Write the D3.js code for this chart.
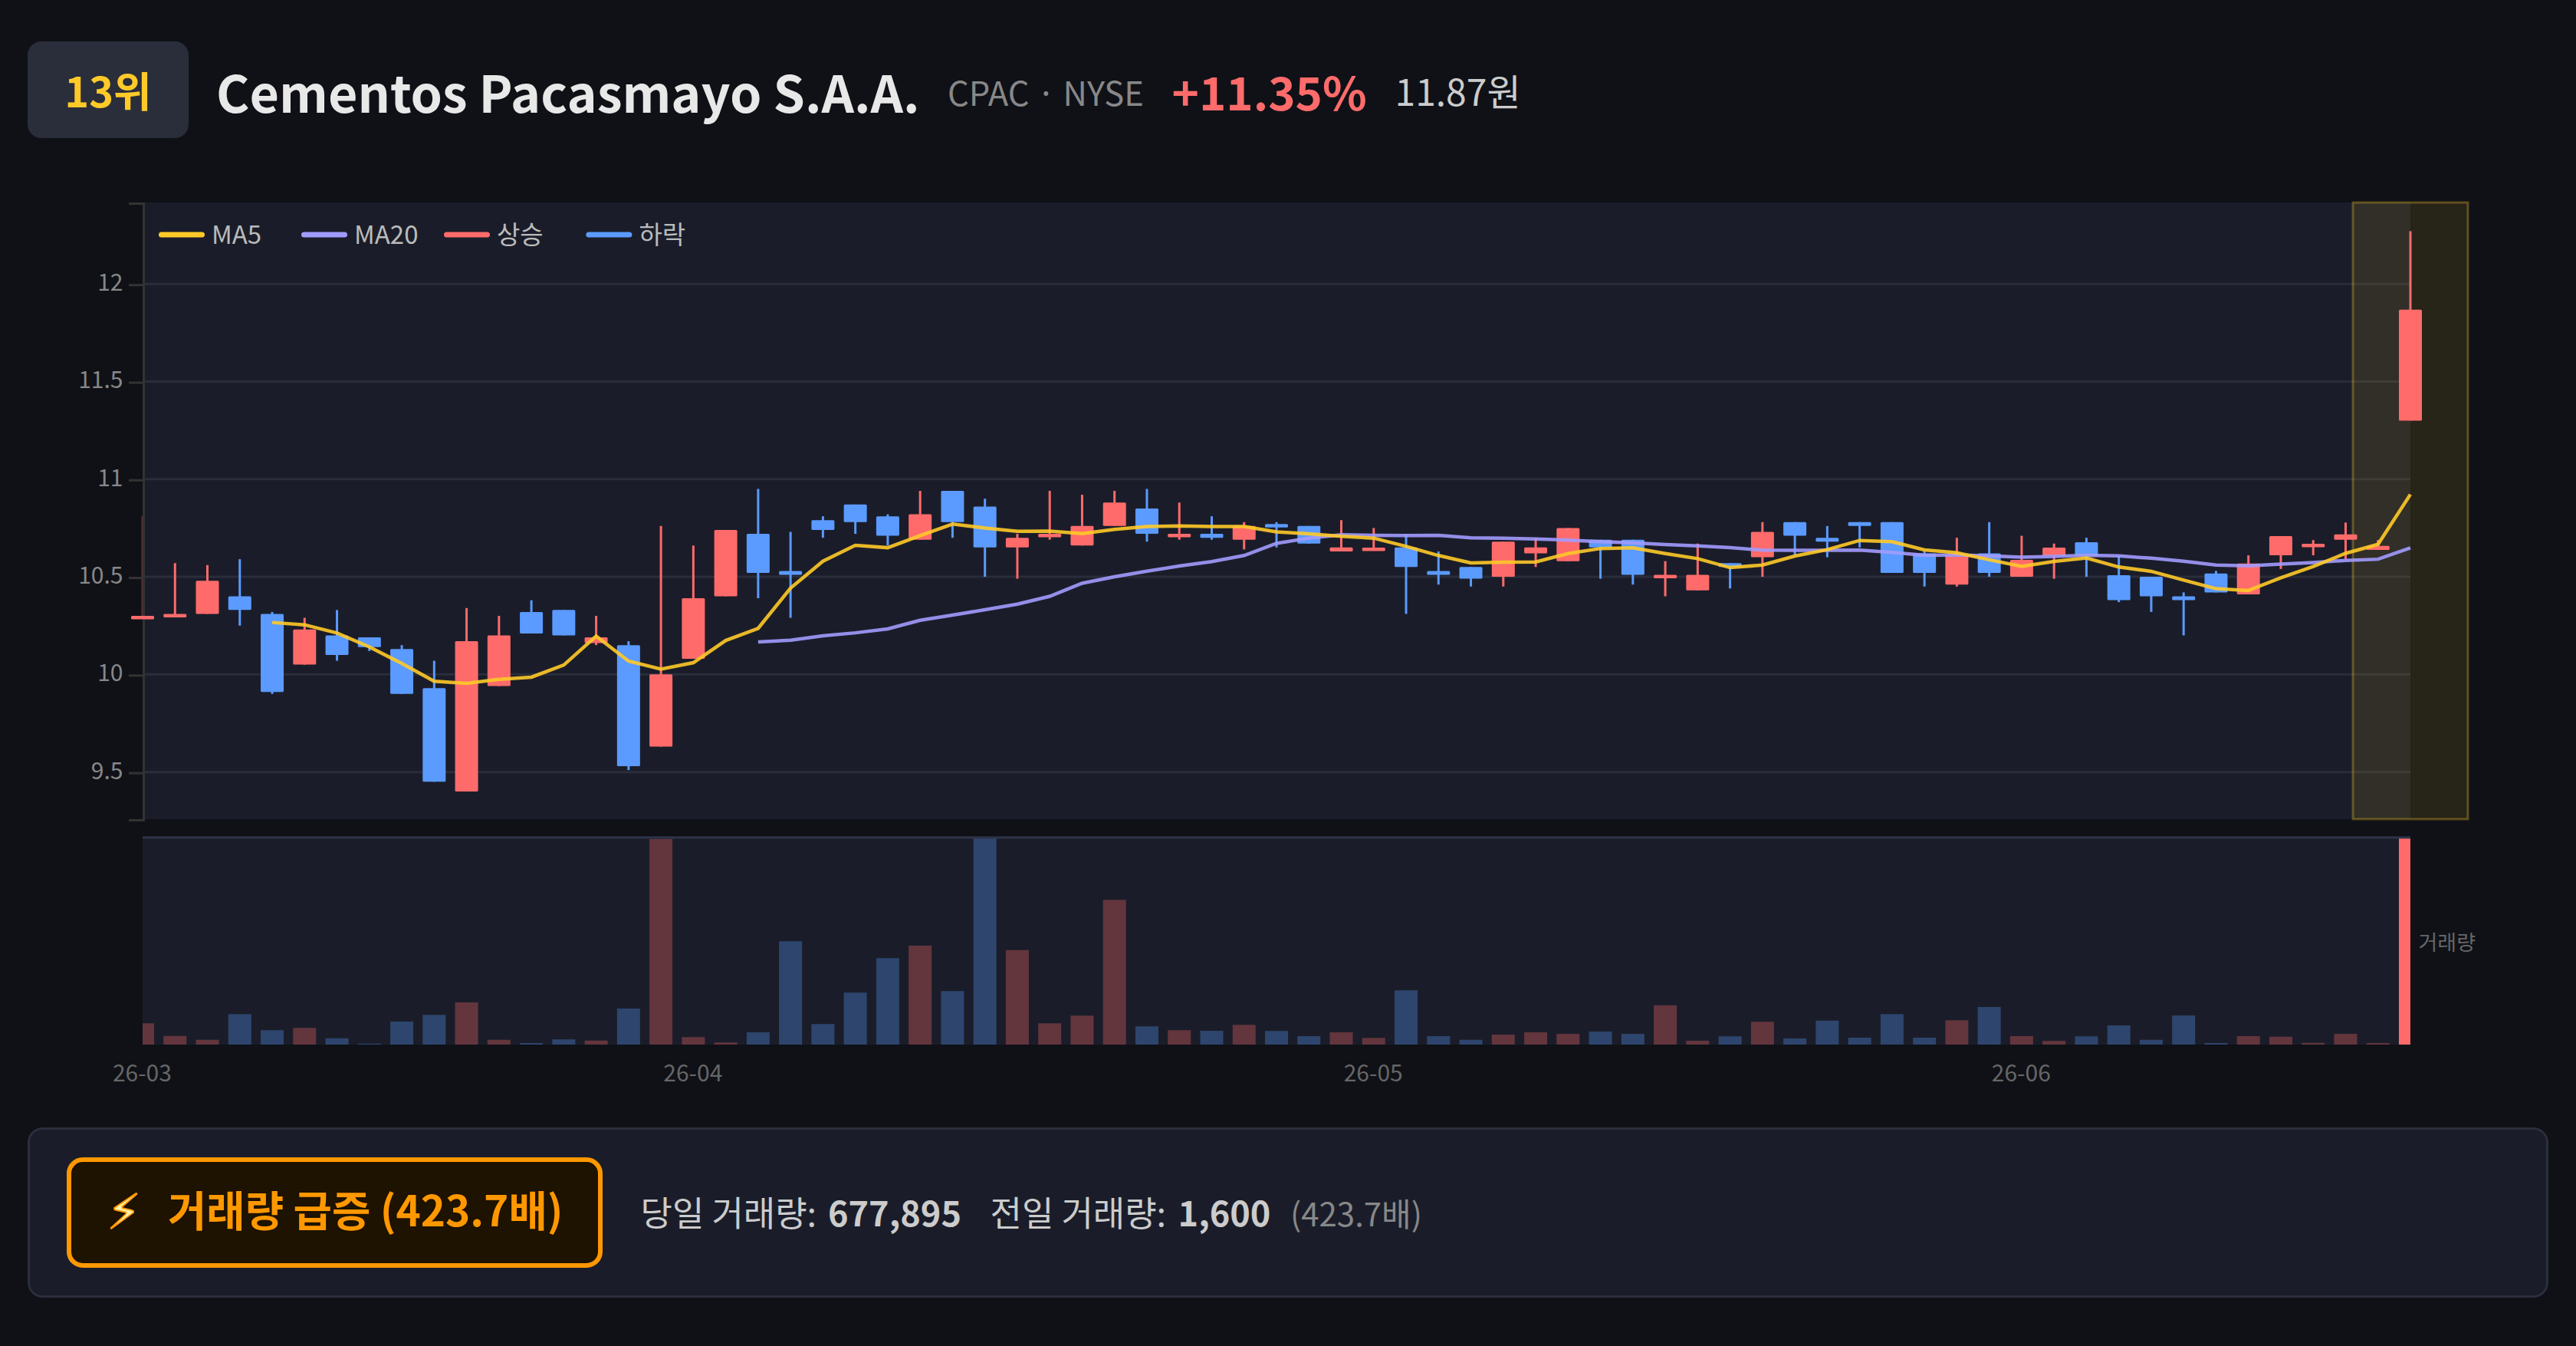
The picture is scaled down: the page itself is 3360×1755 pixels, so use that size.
<!DOCTYPE html>
<html>

<head>
    <meta charset="utf-8">
    <title>Cementos Pacasmayo</title>
    <script src="https://cdn.jsdelivr.net/npm/d3@7"></script>
    <style type="text/css">
        html, body {
            margin: 0;
            padding: 0;
            background-color: #0f1117;
            overflow: hidden;
        }
        svg {
            display: block;
        }
        text {
            font-family: "Noto Sans CJK KR", "Noto Sans", sans-serif;
        }
        .yaxis path, .yaxis line {
            stroke: #333;
        }
        .yaxis text {
            fill: #888;
            font-size: 10px;
        }
        .xaxis text {
            fill: #666;
            font-size: 10px;
        }
    </style>
</head>

<body>
    <script>
        // values, one entry per trading day
        var opens = [10.29,10.30,10.31,10.40,10.31,10.05,10.20,10.19,10.13,9.93,9.40,9.94,10.32,10.33,10.16,10.15,9.63,10.08,10.40,10.72,10.53,10.79,10.87,10.81,10.69,10.94,10.86,10.65,10.71,10.66,10.76,10.85,10.71,10.72,10.69,10.77,10.76,10.63,10.637,10.65,10.53,10.55,10.50,10.62,10.58,10.69,10.69,10.50,10.43,10.57,10.60,10.78,10.70,10.78,10.78,10.62,10.46,10.62,10.50,10.607,10.677,10.508,10.50,10.40,10.517,10.41,10.61,10.66,10.69,10.638,11.30];
        var closes = [10.30,10.31,10.48,10.33,9.91,10.23,10.10,10.14,9.90,9.45,10.17,10.20,10.21,10.20,10.19,9.53,10.00,10.39,10.74,10.52,10.51,10.74,10.78,10.71,10.82,10.78,10.65,10.70,10.72,10.76,10.88,10.72,10.72,10.70,10.76,10.76,10.67,10.65,10.649,10.55,10.51,10.49,10.68,10.65,10.75,10.65,10.51,10.51,10.51,10.55,10.73,10.71,10.68,10.76,10.52,10.52,10.615,10.52,10.587,10.649,10.607,10.38,10.40,10.38,10.42,10.568,10.708,10.669,10.717,10.658,11.868];
        var highs = [10.81,10.57,10.56,10.59,10.32,10.29,10.33,10.19,10.15,10.07,10.34,10.30,10.38,10.33,10.30,10.17,10.76,10.66,10.74,10.95,10.73,10.81,10.87,10.82,10.94,10.94,10.90,10.72,10.94,10.92,10.94,10.95,10.88,10.81,10.78,10.78,10.76,10.79,10.75,10.72,10.63,10.55,10.68,10.70,10.75,10.69,10.69,10.58,10.67,10.57,10.78,10.78,10.76,10.78,10.78,10.63,10.70,10.78,10.71,10.67,10.70,10.607,10.50,10.42,10.53,10.61,10.708,10.688,10.778,10.688,12.27];
        var lows = [10.29,10.30,10.31,10.25,9.90,10.05,10.07,10.12,9.90,9.45,9.40,9.94,10.21,10.20,10.15,9.51,9.63,10.08,10.40,10.39,10.29,10.70,10.72,10.66,10.69,10.70,10.50,10.49,10.69,10.66,10.76,10.68,10.69,10.69,10.64,10.65,10.67,10.63,10.637,10.31,10.46,10.45,10.45,10.55,10.58,10.49,10.46,10.40,10.43,10.44,10.50,10.61,10.60,10.65,10.52,10.45,10.45,10.50,10.50,10.49,10.50,10.37,10.32,10.20,10.42,10.41,10.54,10.61,10.59,10.638,11.30];
        var volumes = [22200,9000,5000,31800,15000,17400,6600,1000,24000,31000,44000,5000,1600,5400,4200,37600,214400,7800,2200,12800,107800,21400,54200,90200,103200,55800,216000,98600,22200,30200,151000,19000,15000,14400,20600,14200,8800,12800,7000,56600,8800,5000,10400,12800,11200,13600,11200,41000,4000,8600,23800,6400,25000,7200,31800,7200,25400,39200,8800,3800,8600,20000,5000,30400,1600,8800,8200,1800,11200,1600,677895];
        var ma5 = [null,null,null,null,10.266,10.254,10.212,10.141,10.056,9.965,9.954,9.975,9.986,10.048,10.196,10.068,10.027,10.06,10.174,10.236,10.442,10.58,10.661,10.649,10.711,10.77,10.75,10.733,10.734,10.721,10.743,10.757,10.76,10.757,10.757,10.73,10.72,10.707,10.698,10.656,10.609,10.571,10.575,10.576,10.619,10.645,10.648,10.619,10.593,10.547,10.56,10.606,10.639,10.686,10.68,10.638,10.623,10.587,10.553,10.579,10.596,10.55,10.528,10.483,10.439,10.43,10.495,10.553,10.62,10.666,10.922];
        var ma20 = [null,null,null,null,null,null,null,null,null,null,null,null,null,null,null,null,null,null,null,10.166,10.175,10.198,10.213,10.233,10.277,10.304,10.331,10.36,10.40,10.467,10.50,10.529,10.555,10.578,10.609,10.671,10.698,10.715,10.712,10.711,10.712,10.70,10.698,10.694,10.688,10.68,10.674,10.665,10.658,10.649,10.637,10.636,10.636,10.637,10.625,10.61,10.612,10.607,10.60,10.604,10.61,10.607,10.595,10.58,10.56,10.556,10.565,10.573,10.584,10.59,10.648];
        var yTicks = [9.5, 10, 10.5, 11, 11.5, 12];
        var monthIndex = [0, 17, 38, 58];
        var monthLabels = ["26-03", "26-04", "26-05", "26-06"];
        var legendLabels = ["MA5", "MA20", "상승", "하락"];
        var legendColors = ["#ffca28", "#a29bfe", "#ff6b6b", "#5b9aff"];

        var up = "#ff6b6b";
        var down = "#5b9aff";
        var last = closes.length - 1;

        var w = 1120;
        var h = 585;
        var left = 62;
        var right = 1048;

        var x = d3.scaleLinear().domain([0, last]).range([left, right]);
        var y = d3.scaleLinear().domain([9.259, 12.417]).range([356, 88]);
        var yVol = d3.scaleLinear().domain([0, 216000]).range([454, 364]).clamp(true);

        var svg = d3.select("body")
            .append("svg")
            .attr("width", w * 3)
            .attr("height", h * 3)
            .attr("viewBox", "0 0 " + w + " " + h);

        //header
        svg.append("rect").attr("x", 12).attr("y", 18).attr("width", 70).attr("height", 42).attr("rx", 6).attr("fill", "#2a2e3b");
        svg.append("text").attr("x", 47).attr("y", 46.8).attr("text-anchor", "middle").attr("font-size", 18).attr("font-weight", 700).attr("fill", "#ffca28").text("13위");
        svg.append("text").attr("x", 94).attr("y", 48.9).attr("font-size", 22.1).attr("font-weight", 700).attr("fill", "#e8e8e8").text("Cementos Pacasmayo S.A.A.");
        svg.append("text").attr("x", 412).attr("y", 46).attr("font-size", 14.5).attr("fill", "#888").text("CPAC · NYSE");
        svg.append("text").attr("x", 509.5).attr("y", 47.9).attr("font-size", 20).attr("font-weight", 700).attr("fill", up).text("+11.35%");
        svg.append("text").attr("x", 606.5).attr("y", 46).attr("font-size", 16).attr("fill", "#ccc").text("11.87원");

        //chart background
        svg.append("rect").attr("x", left).attr("y", 88).attr("width", right - left).attr("height", 268).attr("fill", "#1a1d29");
        svg.append("rect").attr("x", left).attr("y", 364).attr("width", right - left).attr("height", 90).attr("fill", "#1a1d29");

        //grid lines
        svg.append("g").selectAll("line")
            .data(yTicks)
            .enter()
            .append("line")
            .attr("x1", left)
            .attr("x2", right)
            .attr("y1", function(d) { return y(d); })
            .attr("y2", function(d) { return y(d); })
            .attr("stroke", "#2a2d3a")
            .attr("stroke-width", 1);

        //highlight on the last day
        svg.append("rect")
            .attr("x", x(last) - 25)
            .attr("y", 88)
            .attr("width", 50)
            .attr("height", 268)
            .attr("fill", "#ffca28")
            .attr("fill-opacity", 0.1)
            .attr("stroke", "#ffca28")
            .attr("stroke-opacity", 0.3)
            .attr("stroke-width", 1);

        //candles: wicks go under the y axis, bodies over it
        var color = function(i) { return closes[i] >= opens[i] ? up : down; };

        svg.append("g").selectAll("line")
            .data(d3.range(closes.length))
            .enter()
            .append("line")
            .attr("x1", function(i) { return x(i); })
            .attr("x2", function(i) { return x(i); })
            .attr("y1", function(i) { return y(highs[i]); })
            .attr("y2", function(i) { return y(lows[i]); })
            .attr("stroke", color)
            .attr("stroke-opacity", function(i) { return i === 0 ? 0.35 : 1; }) // first wick sits on the axis line
            .attr("stroke-width", 1);

        //Create Y axis
        var yAxis = svg.append("g")
            .attr("class", "yaxis")
            .attr("transform", "translate(" + left + ",0)")
            .call(d3.axisLeft(y).tickValues(yTicks).tickFormat(function(d) { return d; }));
        yAxis.selectAll("text").attr("dy", "0.25em").attr("x", -8.5);

        svg.append("g").selectAll("rect")
            .data(d3.range(closes.length))
            .enter()
            .append("rect")
            .attr("x", function(i) { return x(i) - 5; })
            .attr("width", 10)
            .attr("y", function(i) { return y(Math.max(opens[i], closes[i])); })
            .attr("height", function(i) { return Math.max(1.5, Math.abs(y(opens[i]) - y(closes[i]))); })
            .attr("rx", 0.5)
            .attr("fill", color);

        //moving averages
        var maLine = d3.line()
            .defined(function(d) { return d !== null; })
            .x(function(d, i) { return x(i); })
            .y(function(d) { return y(d); });

        svg.append("path").datum(ma20).attr("d", maLine).attr("fill", "none").attr("stroke", "#a29bfe").attr("stroke-width", 1.5).attr("stroke-opacity", 0.9);
        svg.append("path").datum(ma5).attr("d", maLine).attr("fill", "none").attr("stroke", "#ffca28").attr("stroke-width", 1.5).attr("stroke-opacity", 0.9);

        //legend
        var legend = svg.append("g").selectAll("g")
            .data(legendLabels)
            .enter()
            .append("g")
            .attr("transform", function(d, i) { return "translate(" + [69, 131, 193, 254.8][i] + ",102)"; });

        legend.append("line")
            .attr("x1", 1.2)
            .attr("x2", 18.8)
            .attr("stroke", function(d, i) { return legendColors[i]; })
            .attr("stroke-width", 2.4)
            .attr("stroke-linecap", "round");

        legend.append("text")
            .attr("x", 23)
            .attr("y", 4)
            .attr("font-size", 11)
            .attr("fill", "#bbb")
            .text(function(d) { return d; });

        //volume
        svg.append("defs").append("clipPath").attr("id", "volClip")
            .append("rect").attr("x", left).attr("y", 364).attr("width", right - left).attr("height", 90);

        svg.append("g")
            .attr("clip-path", "url(#volClip)")
            .selectAll("rect")
            .data(d3.range(volumes.length))
            .enter()
            .append("rect")
            .attr("x", function(i) { return x(i) - 5; })
            .attr("width", 10)
            .attr("y", function(i) { return yVol(volumes[i]); })
            .attr("height", function(i) { return 454 - yVol(volumes[i]); })
            .attr("fill", color)
            .attr("fill-opacity", function(i) { return i === last ? 1 : 0.32; });

        svg.append("line").attr("x1", left).attr("x2", right).attr("y1", 364).attr("y2", 364).attr("stroke", "#2e3448").attr("stroke-width", 1);

        svg.append("text").attr("x", 1051.5).attr("y", 413).attr("font-size", 9).attr("fill", "#666").text("거래량");

        //Create X axis
        var xAxis = svg.append("g")
            .attr("class", "xaxis")
            .attr("transform", "translate(-0.7,454)")
            .call(d3.axisBottom(x).tickValues(monthIndex).tickSize(0).tickPadding(9).tickFormat(function(d, i) { return monthLabels[i]; }));
        xAxis.select(".domain").remove();

        //bottom card
        svg.append("rect").attr("x", 12.5).attr("y", 490.5).attr("width", 1095).attr("height", 73).attr("rx", 6).attr("fill", "#1a1d29").attr("stroke", "#2a2e3d").attr("stroke-width", 1);
        svg.append("rect").attr("x", 30).attr("y", 504).attr("width", 231).attr("height", 46).attr("rx", 6).attr("fill", "#1e1200").attr("stroke", "#ff9800").attr("stroke-width", 2);
        svg.append("text").attr("x", 46.5).attr("y", 534).attr("font-size", 21).attr("style", "font-family:'DejaVu Sans',sans-serif").attr("fill", "#fff2a8").attr("stroke", "#ff9800").attr("stroke-width", 0.6).text("⚡");
        svg.append("text").attr("x", 73).attr("y", 533).attr("font-size", 18.25).attr("font-weight", 700).attr("fill", "#ff9800").text("거래량 급증 (423.7배)");

        var stats = svg.append("text").attr("x", 278.5).attr("y", 533).attr("font-size", 15).attr("fill", "#ccc");
        stats.append("tspan").text("당일 거래량:");
        stats.append("tspan").attr("x", 360).attr("font-weight", 700).text("677,895");
        stats.append("tspan").attr("x", 430.5).text("전일 거래량:");
        stats.append("tspan").attr("x", 512.2).attr("font-weight", 700).text("1,600");
        stats.append("tspan").attr("x", 561).attr("font-size", 14).attr("fill", "#888").text("(423.7배)");
    </script>
</body>
</html>
